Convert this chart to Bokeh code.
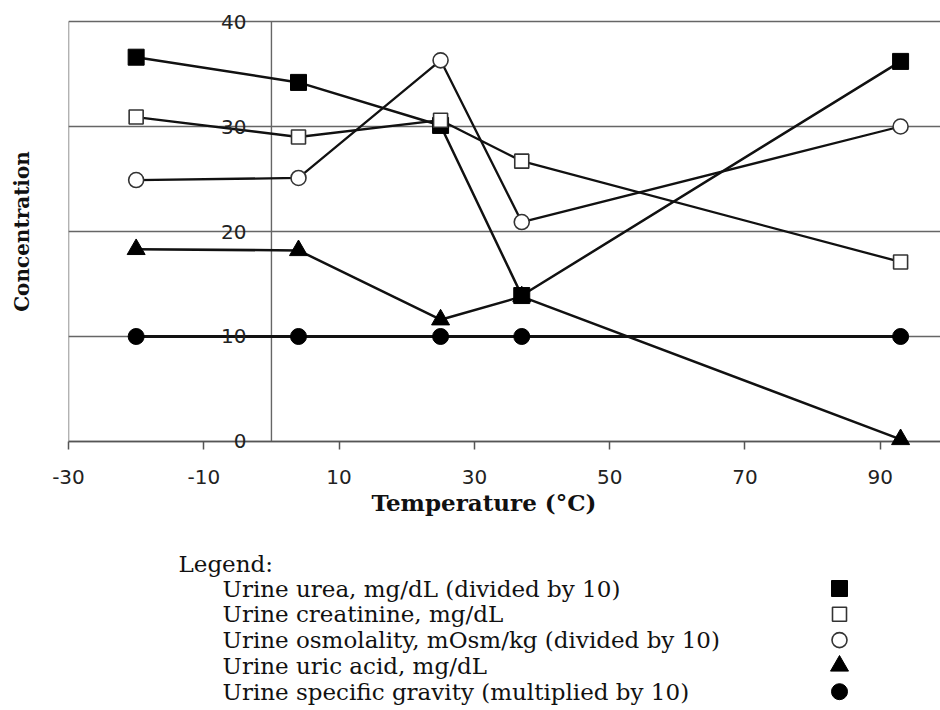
from bokeh.plotting import figure
from bokeh.models import Range1d, FixedTicker, Label, Title
from bokeh.layouts import column
from bokeh.embed import file_html
from bokeh.resources import INLINE
from bokeh.core.properties import value

# ---------------- data ----------------
temperature = [-20, 4, 25, 37, 93]
urea = [36.6, 34.2, 30.1, 13.9, 36.2]            # mg/dL divided by 10
creatinine = [30.9, 29.0, 30.6, 26.7, 17.1]       # mg/dL
osmolality = [24.9, 25.1, 36.3, 20.9, 30.0]       # mOsm/kg divided by 10
uric_acid = [18.3, 18.2, 11.6, 13.8, 0.2]         # mg/dL
specific_gravity = [10.0, 10.0, 10.0, 10.0, 10.0]  # multiplied by 10

x_ticks = [-30, -10, 10, 30, 50, 70, 90]
x_tick_labels = ["-30", "-10", "10", "30", "50", "70", "90"]
y_ticks = [0, 10, 20, 30, 40]
y_tick_labels = ["0", "10", "20", "30", "40"]

x_title = "Temperature (°C)"
y_title = "Concentration"
legend_title = "Legend:"
legend_labels = [
    "Urine urea, mg/dL (divided by 10)",
    "Urine creatinine, mg/dL",
    "Urine osmolality, mOsm/kg (divided by 10)",
    "Urine uric acid, mg/dL",
    "Urine specific gravity (multiplied by 10)",
]
series_values = [urea, creatinine, osmolality, uric_acid, specific_gravity]

# styles (not data)
marker_styles = [
    dict(marker="square", size=16, fill_color="#000000", line_color="#000000", line_width=1),
    dict(marker="square", size=14, fill_color="#ffffff", line_color="#333333", line_width=1.6),
    dict(marker="circle", size=15, fill_color="#ffffff", line_color="#333333", line_width=1.6),
    dict(marker="triangle", size=18, fill_color="#000000", line_color="#000000", line_width=1),
    dict(marker="circle", size=16, fill_color="#000000", line_color="#000000", line_width=1),
]
line_widths = [2.5, 2.3, 2.3, 2.5, 3.0]

GRID = "#666666"
AXIS = "#555555"
SANS = "DejaVu Sans"
SERIF = "DejaVu Serif"

X_MIN, X_MAX = -30, 98.9
PAD = 0.762   # small margin (in y units) so the 0 and 40 labels are not cut

# ---------------- main chart ----------------
p = figure(width=940, height=525,
           x_range=Range1d(X_MIN, X_MAX),
           y_range=Range1d(y_ticks[0] - PAD, y_ticks[-1] + PAD),
           output_backend="svg", toolbar_location=None,
           min_border_left=68, min_border_right=0,
           min_border_top=13, min_border_bottom=76,
           background_fill_color="white", border_fill_color="white")
p.outline_line_color = None

# x axis: ticks rise from the frame bottom up to the y = 0 line
xa = p.xaxis[0]
xa.ticker = FixedTicker(ticks=x_ticks)
xa.major_label_overrides = {t: s for t, s in zip(x_ticks, x_tick_labels)}
xa.minor_tick_line_color = None
xa.major_tick_in = 8
xa.major_tick_out = 0
xa.major_tick_line_color = AXIS
xa.major_tick_line_width = 1.5
xa.axis_line_color = None
xa.major_label_standoff = 20
xa.major_label_text_font = SANS
xa.major_label_text_font_size = "20px"
xa.major_label_text_color = "#222222"

p.add_layout(Title(text=x_title, align="left", offset=303, standoff=0,
                   text_font=SERIF, text_font_style="bold",
                   text_font_size="23px", text_color="#111111"), "below")

# y axis: title only
ya = p.yaxis[0]
ya.ticker = FixedTicker(ticks=[])
ya.major_tick_out = 0
ya.major_tick_in = 0
ya.minor_tick_line_color = None
ya.major_label_standoff = 0
ya.axis_line_color = None
ya.axis_label = y_title
ya.axis_label_text_font = SERIF
ya.axis_label_text_font_style = "bold"
ya.axis_label_text_font_size = "20px"
ya.axis_label_text_color = "#111111"
ya.axis_label_standoff = 35

# horizontal grid lines (0 acts as the x axis line)
p.ygrid.ticker = FixedTicker(ticks=y_ticks)
p.ygrid.grid_line_color = GRID
p.ygrid.grid_line_width = 1.4
p.xgrid.visible = False

# left frame line and the vertical line at x = 0
p.segment(x0=[X_MIN, 0], y0=[y_ticks[0]] * 2, x1=[X_MIN, 0], y1=[y_ticks[-1]] * 2,
          line_color=GRID, line_width=1.4)
p.segment(x0=[X_MIN], y0=[y_ticks[0]], x1=[X_MAX], y1=[y_ticks[0]],
          line_color=AXIS, line_width=1.6)

# y tick labels next to the x = 0 line
for t, s in zip(y_ticks, y_tick_labels):
    p.add_layout(Label(x=0, y=t, text=s, x_offset=-25,
                       text_align="right", text_baseline="middle",
                       text_font=SANS, text_font_size="20px",
                       text_color="#222222"))

for vals, lw in zip(series_values, line_widths):
    p.line(temperature, vals, line_color="#111111", line_width=lw)
for vals, st in zip(series_values, marker_styles):
    p.scatter(temperature, vals, **st)

# ---------------- legend panel ----------------
q = figure(width=940, height=185,
           x_range=Range1d(68, 940), y_range=Range1d(710, 525),
           output_backend="svg", toolbar_location=None,
           x_axis_type=None, y_axis_type=None,
           min_border_left=68, min_border_right=0,
           min_border_top=0, min_border_bottom=0,
           background_fill_color="white", border_fill_color="white")
q.outline_line_color = None
q.xgrid.visible = False
q.ygrid.visible = False

row0 = 588.0
row_step = 25.8
row_y = [row0 + i * row_step for i in range(len(legend_labels))]

q.text(x=[178], y=[563.5], text=[legend_title],
       text_font=value(SERIF), text_font_size="23px",
       text_align="left", text_baseline="middle", text_color="#111111")
q.text(x=[222] * len(legend_labels), y=row_y, text=legend_labels,
       text_font=value(SERIF), text_font_size="23px",
       text_align="left", text_baseline="middle", text_color="#111111")
for yy, st in zip(row_y, marker_styles):
    q.scatter([839], [yy], **st)

layout = column(p, q, spacing=0)
open("out.html", "w").write(file_html(layout, INLINE))
